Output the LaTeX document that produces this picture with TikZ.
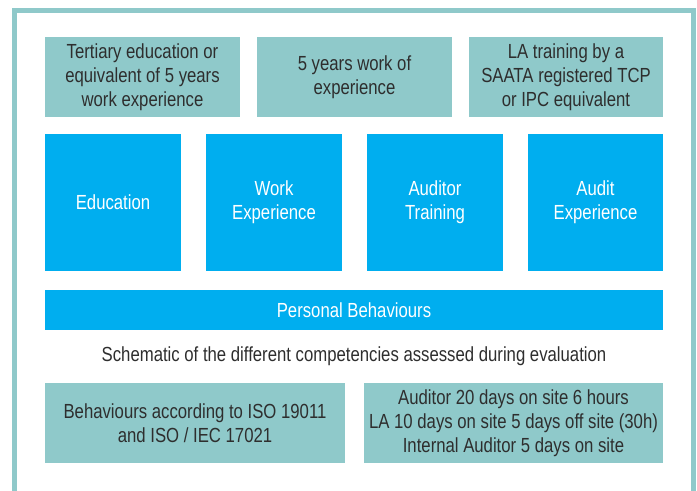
\documentclass[tikz,border=0pt]{standalone}
\usepackage{fontspec}
\setmainfont{Liberation Sans}[FakeStretch=0.82]
\definecolor{tealc}{HTML}{8FC9CA}
\definecolor{bluec}{HTML}{00AEEF}
\definecolor{darktext}{HTML}{2E2E2E}
\tikzset{
  tealbox/.style={fill=tealc, draw=none, text=darktext, align=center, inner sep=0pt, font=\fontsize{15.3}{18}\selectfont},
  bluebox/.style={fill=bluec, draw=none, text=white, align=center, inner sep=0pt, font=\fontsize{15.3}{18}\selectfont},
  captiontext/.style={text=darktext, inner sep=0pt, font=\fontsize{15.3}{18}\selectfont},
  frameline/.style={draw=tealc, line width=3.9pt}
}
\begin{document}
\begin{tikzpicture}[x=0.75pt,y=-0.75pt]
\useasboundingbox (0,0) rectangle (697,491);
\draw[frameline] (14.8,495) -- (14.8,10.6) -- (693.5,10.6) -- (693.5,495);
% top row
\node[tealbox, minimum width={195*0.75pt}, minimum height={80*0.75pt}] (t1) at (142.5,77) {Tertiary education or\\equivalent of 5 years\\work experience};
\node[tealbox, minimum width={195*0.75pt}, minimum height={80*0.75pt}] (t2) at (354.5,77) {5 years work of\\experience};
\node[tealbox, minimum width={194*0.75pt}, minimum height={80*0.75pt}] (t3) at (566,77) {LA training by a\\SAATA registered TCP\\or IPC equivalent};
% blue row
\node[bluebox, minimum width={136*0.75pt}, minimum height={137*0.75pt}] (b1) at (113,202.5) {Education};
\node[bluebox, minimum width={136*0.75pt}, minimum height={137*0.75pt}] (b2) at (274,202.5) {Work\\Experience};
\node[bluebox, minimum width={136*0.75pt}, minimum height={137*0.75pt}] (b3) at (435,202.5) {Auditor\\Training};
\node[bluebox, minimum width={135*0.75pt}, minimum height={137*0.75pt}] (b4) at (595.5,202.5) {Audit\\Experience};
% personal behaviours
\node[bluebox, minimum width={618*0.75pt}, minimum height={40*0.75pt}] (pb) at (354,310) {Personal Behaviours};
\node[captiontext] (cap) at (354,356) {Schematic of the different competencies assessed during evaluation};
% bottom row
\node[tealbox, minimum width={300*0.75pt}, minimum height={80*0.75pt}] (l1) at (195,423) {Behaviours according to ISO 19011\\and ISO / IEC 17021};
\node[tealbox, minimum width={299*0.75pt}, minimum height={80*0.75pt}] (l2) at (513.5,423) {Auditor 20 days on site 6 hours\\LA 10 days on site 5 days off site (30h)\\Internal Auditor 5 days on site};
\end{tikzpicture}
\end{document}
